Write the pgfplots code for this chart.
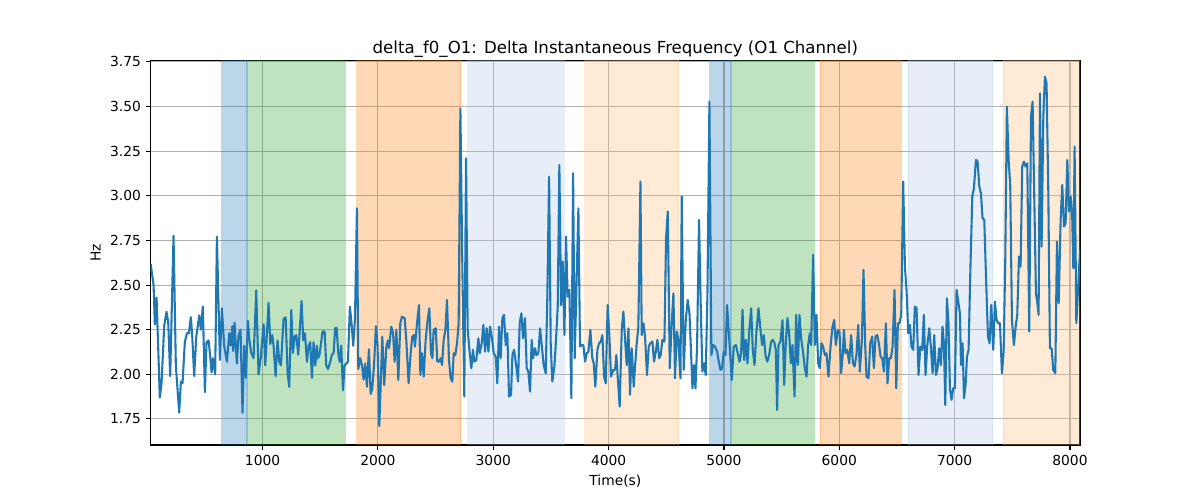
\documentclass[border=0pt]{standalone}
\usepackage{fontspec}
\setmainfont{DejaVu Sans}
\usepackage{pgfplots}
\pgfplotsset{compat=1.18}
\usepackage{pgfplotstable}
\definecolor{cblue}{HTML}{1F77B4}
\definecolor{corange}{HTML}{FF7F0E}
\definecolor{cgreen}{HTML}{2CA02C}
\definecolor{clblue}{HTML}{AEC7E8}
\definecolor{clorange}{HTML}{FFBB78}
\definecolor{gridgray}{HTML}{B0B0B0}

\pgfplotstableread{
x y
30 2.617
55 2.50
66 2.28
81 2.43
109 1.87
124 1.95
147 2.27
167 2.35
182 2.29
199 1.99
228 2.776
248 2.05
277 1.785
292 1.96
306 1.95
326 2.18
344 2.23
361 2.23
378 2.32
390 2.215
407 1.99
425 2.21
451 2.33
465 2.25
482 2.38
500 1.90
514 2.18
532 2.19
546 2.10
558 2.01
569 2.09
589 2.00
604 2.77
630 2.08
647 2.37
667 2.16
691 2.07
711 2.23
725 2.16
737 2.27
746 2.13
757 2.29
777 2.06
792 2.22
809 2.25
826 1.785
841 2.16
855 1.98
873 2.30
884 2.20
902 2.12
922 2.09
945 2.47
965 2.00
985 2.10
1009 2.28
1023 2.05
1052 2.40
1067 2.17
1084 2.22
1095 2.16
1113 1.99
1130 2.19
1145 2.07
1159 2.05
1182 2.31
1200 2.32
1217 2.01
1231 1.93
1249 2.36
1263 2.12
1278 2.21
1292 2.22
1309 2.11
1338 2.41
1353 2.19
1367 2.23
1385 2.07
1399 2.16
1413 2.18
1428 1.98
1442 2.18
1457 2.05
1471 2.16
1480 2.09
1494 2.11
1520 2.24
1538 2.24
1552 2.05
1567 2.03
1587 2.07
1601 2.11
1616 2.12
1630 2.26
1642 2.26
1656 2.12
1668 2.07
1682 2.16
1697 1.91
1711 2.05
1726 2.06
1740 2.07
1757 2.38
1772 2.28
1786 2.16
1801 2.31
1818 2.93
1830 2.03
1847 2.09
1862 2.05
1876 1.97
1890 2.06
1905 1.93
1922 2.14
1937 1.89
1951 1.92
1966 2.05
1983 2.27
1997 2.16
2012 1.71
2038 2.211
2055 1.94
2073 2.155
2087 2.19
2096 2.146
2116 2.267
2131 2.23
2145 2.07
2160 2.249
2177 1.968
2194 2.286
2209 2.323
2232 2.314
2246 2.193
2266 1.95
2284 2.118
2298 2.211
2313 2.22
2321 2.155
2339 2.286
2356 2.388
2368 1.996
2382 2.118
2397 1.987
2414 2.193
2431 2.304
2446 2.37
2460 2.118
2472 2.09
2483 2.249
2501 2.258
2515 2.071
2530 2.071
2544 2.09
2556 2.052
2570 2.193
2585 2.249
2599 2.417
2616 2.08
2631 1.978
2645 1.959
2657 2.118
2671 2.108
2686 2.174
2700 2.286
2715 3.49
2732 2.603
2749 1.875
2764 3.21
2778 2.249
2796 2.118
2810 2.034
2824 2.137
2836 2.071
2853 2.08
2871 2.202
2882 2.118
2900 2.174
2914 2.277
2929 2.127
2943 2.258
2958 2.127
2972 2.267
2989 2.202
3004 2.118
3021 2.10
3035 1.95
3050 2.267
3064 2.09
3079 2.314
3093 2.333
3108 2.164
3122 2.23
3137 1.875
3154 1.885
3166 2.108
3180 2.137
3200 2.043
3215 1.96
3229 2.286
3244 2.342
3258 2.202
3275 2.314
3290 2.034
3304 2.015
3319 1.903
3333 2.193
3345 2.09
3362 2.146
3374 2.108
3391 2.118
3406 2.258
3420 2.164
3437 2.052
3455 2.006
3469 2.445
3484 3.107
3498 2.174
3512 1.96
3530 2.043
3544 2.193
3559 2.38
3573 3.173
3588 2.388
3602 2.632
3617 2.22
3631 2.772
3645 2.435
3660 2.473
3677 1.866
3692 3.126
3706 2.09
3724 2.566
3738 2.93
3752 2.155
3767 2.164
3781 2.164
3796 2.071
3810 2.118
3825 2.127
3842 2.249
3859 2.09
3871 2.062
3885 1.931
3903 2.137
3917 2.174
3932 2.183
3946 2.22
3961 1.987
3975 1.95
3992 2.388
4007 2.211
4021 1.987
4041 2.025
4056 2.025
4067 2.108
4079 1.987
4096 1.819
4114 2.249
4128 2.352
4143 2.193
4157 2.052
4172 2.258
4186 1.885
4200 2.146
4218 1.931
4229 2.043
4244 2.174
4258 2.267
4276 3.08
4287 2.22
4302 2.286
4316 2.211
4333 1.996
4348 2.155
4362 2.174
4380 2.183
4394 2.071
4409 2.127
4423 2.193
4438 2.09
4452 2.108
4466 2.193
4484 2.183
4498 2.762
4513 2.912
4530 2.034
4547 2.286
4562 2.454
4576 1.978
4591 2.24
4605 2.193
4623 1.978
4634 2.996
4651 2.025
4669 2.304
4686 2.417
4701 2.342
4715 2.118
4727 1.922
4741 2.052
4753 1.922
4767 2.155
4784 2.865
4799 2.38
4813 2.015
4828 2.062
4842 1.996
4857 2.454
4874 3.528
4891 2.108
4906 2.164
4923 2.155
4941 2.127
4955 2.071
4970 2.025
4984 2.034
4998 2.127
5013 2.108
5027 2.388
5048 2.174
5068 1.968
5085 2.155
5103 2.164
5120 2.118
5135 2.071
5149 2.118
5161 2.361
5175 2.08
5190 2.193
5204 2.062
5218 2.23
5236 2.37
5250 2.137
5265 2.052
5282 2.24
5299 2.37
5317 2.249
5331 2.164
5346 2.22
5360 2.108
5375 2.071
5392 2.108
5409 2.183
5424 2.193
5438 2.174
5450 2.137
5461 1.80
5473 2.164
5490 2.183
5508 2.304
5522 1.94
5536 2.174
5551 2.314
5565 2.23
5580 2.062
5594 2.164
5612 1.875
5626 2.333
5641 2.052
5655 2.333
5669 2.202
5687 2.118
5701 2.034
5716 1.987
5730 2.164
5745 2.23
5756 2.164
5773 2.669
5788 2.164
5802 2.333
5817 2.062
5831 2.034
5846 2.174
5860 2.155
5875 2.108
5889 2.118
5906 1.987
5924 2.155
5941 2.267
5956 2.304
5970 2.164
5987 2.249
6002 2.24
6016 2.006
6031 2.118
6040 2.249
6054 2.118
6069 2.137
6086 2.062
6103 2.22
6118 2.062
6132 2.043
6149 2.108
6164 2.277
6178 2.015
6196 2.193
6210 2.585
6225 2.155
6236 1.987
6254 1.978
6268 2.174
6285 2.211
6300 2.034
6314 2.211
6329 2.22
6343 2.174
6358 2.099
6372 2.09
6387 2.015
6404 2.286
6418 1.95
6433 2.09
6447 2.09
6462 2.155
6479 2.473
6494 1.922
6508 2.286
6522 2.286
6537 2.333
6554 3.08
6569 2.603
6583 2.473
6598 2.23
6612 2.277
6626 2.155
6641 2.137
6655 2.38
6670 2.37
6687 1.996
6702 2.155
6719 2.137
6733 2.333
6748 1.996
6762 2.155
6780 2.258
6794 2.155
6809 2.006
6823 2.22
6838 1.996
6852 2.034
6866 2.146
6881 2.052
6895 2.267
6907 2.174
6919 1.828
6933 2.426
6947 2.286
6959 1.922
6973 1.857
6988 1.922
7002 1.922
7017 2.473
7046 2.342
7055 2.052
7069 2.174
7081 1.866
7095 1.94
7107 2.099
7121 2.137
7135 2.547
7153 2.996
7167 3.042
7185 3.201
7199 3.192
7214 3.052
7228 3.014
7242 2.874
7257 2.865
7271 2.566
7289 2.211
7303 2.174
7318 2.389
7335 2.137
7349 2.407
7364 2.304
7378 2.286
7393 2.286
7410 2.006
7425 2.127
7439 2.641
7453 3.50
7468 3.201
7482 3.061
7497 2.304
7514 2.164
7529 2.267
7543 2.333
7558 2.66
7572 2.603
7586 3.164
7601 3.192
7615 3.164
7630 3.182
7647 2.24
7662 3.444
7676 3.528
7705 2.454
7719 2.389
7728 2.333
7740 3.574
7754 2.715
7769 3.444
7783 3.668
7797 3.63
7812 3.033
7826 2.146
7841 2.146
7855 2.025
7873 2.006
7887 2.743
7902 2.398
7919 2.865
7933 3.061
7948 2.828
7962 2.846
7977 3.201
7991 2.912
8006 2.996
8020 2.865
8029 2.594
8040 3.276
8055 2.286
8069 2.463
8087 2.697
}\signal

\begin{document}
\begin{tikzpicture}
\path[use as bounding box] (0,0) rectangle (864bp,360bp);
\begin{axis}[
  at={(108.5bp,39.6bp)}, anchor=south west,
  scale only axis, width=669.1bp, height=276.7bp,
  xmin=30, xmax=8087, ymin=1.604, ymax=3.757,
  xtick={1000,2000,3000,4000,5000,6000,7000,8000},
  ytick={1.75,2.00,2.25,2.50,2.75,3.00,3.25,3.50,3.75},
  tick pos=left, tick align=outside,
  major tick length=3.5bp,
  every tick/.style={black, line width=0.8bp},
  axis line style={black, line width=0.8bp},
  grid=major,
  major grid style={gridgray, line width=0.8bp},
  /pgf/number format/assume math mode=true,
  xticklabel style={font=\fontsize{10}{12}\selectfont, /pgf/number format/1000 sep={}},
  yticklabel style={font=\fontsize{10}{12}\selectfont, /pgf/number format/.cd, fixed, fixed zerofill, precision=2},
  scaled ticks=false,
  title={delta\_f0\_O1: Delta Instantaneous Frequency (O1 Channel)},
  title style={font=\fontsize{12}{14}\selectfont, yshift=-7bp},
  xlabel={Time(s)}, ylabel={Hz},
  label style={font=\fontsize{10}{12}\selectfont},
  clip=true,
]
\addplot[fill=cblue, draw=cblue, opacity=0.3] coordinates {(644,1.5) (644,3.9) (861,3.9) (861,1.5)} -- cycle;
\addplot[fill=cgreen, draw=cgreen, opacity=0.3] coordinates {(864,1.5) (864,3.9) (1717,3.9) (1717,1.5)} -- cycle;
\addplot[fill=corange, draw=corange, opacity=0.3] coordinates {(1815,1.5) (1815,3.9) (2717,3.9) (2717,1.5)} -- cycle;
\addplot[fill=clblue, draw=clblue, opacity=0.3] coordinates {(2778,1.5) (2778,3.9) (3617,3.9) (3617,1.5)} -- cycle;
\addplot[fill=clorange, draw=clorange, opacity=0.3] coordinates {(3793,1.5) (3793,3.9) (4606,3.9) (4606,1.5)} -- cycle;
\addplot[fill=cblue, draw=cblue, opacity=0.3] coordinates {(4877,1.5) (4877,3.9) (5059,3.9) (5059,1.5)} -- cycle;
\addplot[fill=cgreen, draw=cgreen, opacity=0.3] coordinates {(5065,1.5) (5065,3.9) (5782,3.9) (5782,1.5)} -- cycle;
\addplot[fill=corange, draw=corange, opacity=0.3] coordinates {(5832,1.5) (5832,3.9) (6534,3.9) (6534,1.5)} -- cycle;
\addplot[fill=clblue, draw=clblue, opacity=0.3] coordinates {(6595,1.5) (6595,3.9) (7329,3.9) (7329,1.5)} -- cycle;
\addplot[fill=clorange, draw=clorange, opacity=0.3] coordinates {(7419,1.5) (7419,3.9) (8200,3.9) (8200,1.5)} -- cycle;
\addplot[cblue, line width=1.5bp, line join=round, mark=none] table[x=x,y=y] {\signal};
\end{axis}
\end{tikzpicture}
\end{document}
